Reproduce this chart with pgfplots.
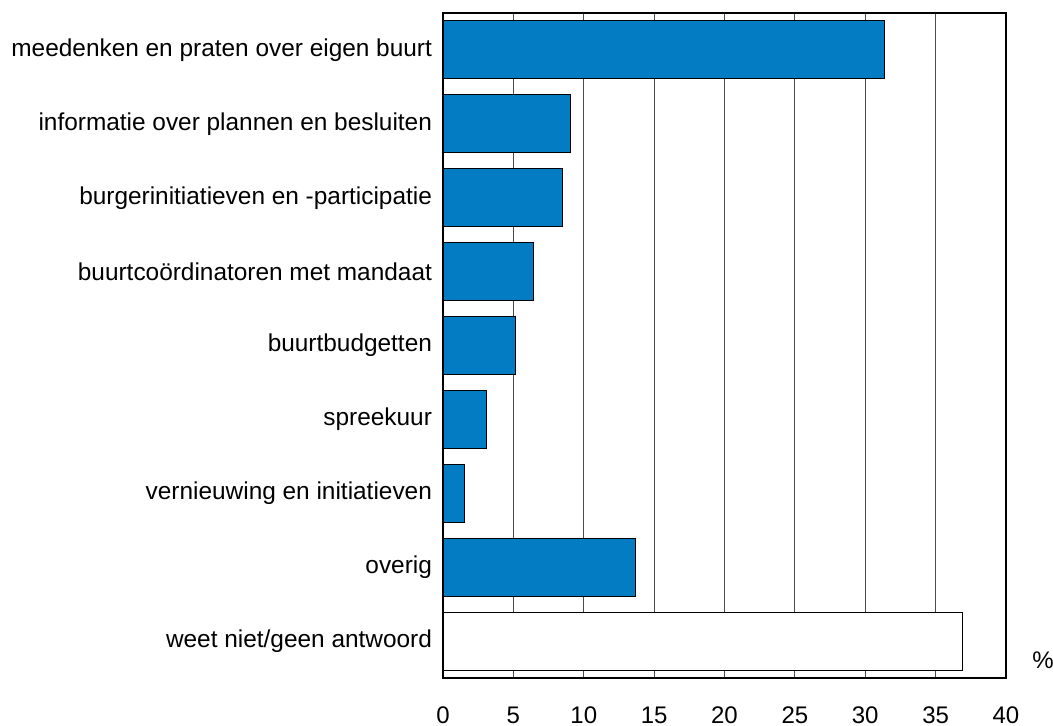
\documentclass[border=0pt]{standalone}
\usepackage{pgfplots}
\pgfplotsset{compat=1.18}
\usepackage{fontspec}
\setmainfont{Liberation Sans}
\definecolor{barblue}{RGB}{3,124,196}
\begin{document}
\begin{tikzpicture}
\path[use as bounding box] (0,0) rectangle (526.5pt,363pt);
\begin{axis}[
  at={(221.5pt,24pt)}, anchor=south west,
  scale only axis,
  width=281.5pt, height=332.5pt,
  xbar, bar width=29pt, bar shift=0pt,
  xmin=0, xmax=40,
  ymin=-0.5, ymax=8.5,
  y dir=reverse,
  xtick={0,5,...,40},
  ytick={0,...,8},
  yticklabels={meedenken en praten over eigen buurt,informatie over plannen en besluiten,burgerinitiatieven en -participatie,buurtco\"ordinatoren met mandaat,buurtbudgetten,spreekuur,vernieuwing en initiatieven,overig,weet niet/geen antwoord},
  major tick length=0pt,
  xmajorgrids,
  major grid style={draw=black!70, line width=0.6pt},
  axis line style={draw=black, line width=0.6pt},
  /pgf/number format/assume math mode=true,
  xticklabel style={font=\fontsize{12}{14}\selectfont, yshift=-11pt},
  yticklabel style={font=\fontsize{12.2}{14}\selectfont, xshift=-2pt},
  clip=false,
]
\addplot[fill=barblue, draw=black, line width=0.5pt, bar shift=0pt] coordinates {
  (31.4,0) (9.07,1) (8.48,2) (6.44,3) (5.15,4) (3.1,5) (1.5,6) (13.65,7)
};
\addplot[fill=white, draw=black, line width=0.5pt, bar shift=0pt] coordinates {(36.9,8)};
\node[font=\fontsize{12}{14}\selectfont] at (axis description cs:1.0657,0.027) {\%};
\end{axis}
\end{tikzpicture}
\end{document}
